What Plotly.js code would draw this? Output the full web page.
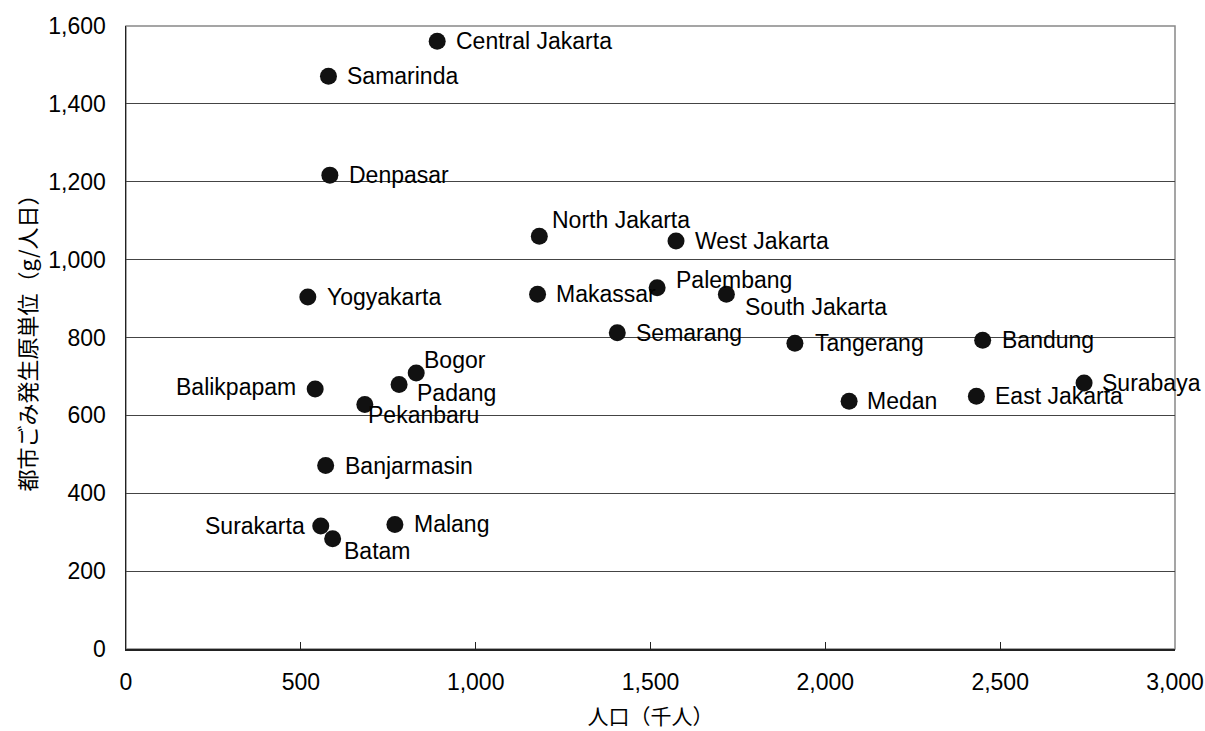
<!DOCTYPE html>
<html>
<head>
<meta charset="utf-8">
<script src="https://cdn.plot.ly/plotly-3.0.1.min.js"></script>
<style>html,body{margin:0;padding:0;background:#fff;}#chart{width:1205px;height:731px;}</style>
</head>
<body>
<div id="chart"></div>
<script>
const cities = ["Central Jakarta","Samarinda","Denpasar","North Jakarta","West Jakarta","Yogyakarta","Makassar","Palembang","South Jakarta","Semarang","Tangerang","Bandung","Bogor","Padang","Balikpapam","Pekanbaru","Medan","East Jakarta","Surabaya","Banjarmasin","Surakarta","Batam","Malang"];
const population = [890,579,583,1182,1573,520,1177,1519,1717,1405,1913,2450,830,781,541,683,2068,2432,2740,571,557,591,769];
const wastePerCapita = [1561,1471,1217,1060,1048,904,911,928,911,812,785,793,709,679,668,628,636,649,683,471,316,283,320];
const xTicks = [0,500,1000,1500,2000,2500,3000];
const yTicks = [0,200,400,600,800,1000,1200,1400,1600];

// label placement relative to each dot: [anchor side, x shift px, y shift px (down)]
const labelPlacement = [
  ["left",17,0],["left",17,0],["left",17,0],["left",11,-16],["left",17,0],["left",17,0],["left",16,0],["left",17,-8],
  ["left",17,13],["left",17,0],["left",18,0],["left",17,0],["left",6,-13],["left",16,8],["right",-17,-2],["left",1,11],
  ["left",16,0],["left",17,0],["left",16,0],["left",17,0],["right",-14,0],["left",9,12],["left",17,0]
];

const trace = {
  type: "scatter",
  mode: "markers",
  x: population,
  y: wastePerCapita,
  text: cities,
  marker: {size: 17, color: "#111111"},
  cliponaxis: false,
  hoverinfo: "x+y+text",
  showlegend: false
};

const labelFont = {family: "Liberation Sans, Arial, sans-serif", size: 23, color: "#000"};
const annotations = cities.map((name, i) => ({
  x: population[i], y: wastePerCapita[i], xref: "x", yref: "y",
  text: name, showarrow: false,
  xanchor: labelPlacement[i][0], yanchor: "middle",
  xshift: labelPlacement[i][1], yshift: -labelPlacement[i][2],
  font: labelFont
}));

const layout = {
  width: 1205, height: 731,
  margin: {l: 126, r: 30, t: 26, b: 82},
  paper_bgcolor: "#fff", plot_bgcolor: "#fff",
  font: {family: "Liberation Sans, Arial, sans-serif", size: 23, color: "#000"},
  xaxis: {
    range: [0, 3000], tickvals: xTicks, tickformat: ",",
    showgrid: false, zeroline: false,
    showline: true, linecolor: "#222", linewidth: 1.5,
    ticks: "inside", ticklen: 7, tickcolor: "#222",
    ticklabelstandoff: 12,
    title: {text: "人口（千人）", font: {family: "Noto Sans CJK JP", size: 21, color: "#000"}, standoff: 15}
  },
  yaxis: {
    range: [0, 1600], tickvals: yTicks, tickformat: ",",
    showgrid: true, gridcolor: "#444", gridwidth: 1,
    zeroline: false,
    showline: true, linecolor: "#222", linewidth: 1.5,
    ticks: "", ticklabelstandoff: 14,
    title: {text: "都市ごみ発生原単位（g/人日）", font: {family: "Noto Sans CJK JP", size: 22, color: "#000"}, standoff: 5}
  },
  annotations: annotations,
  shapes: [{type: "rect", xref: "paper", yref: "paper", x0: 0, x1: 1, y0: 0, y1: 1, line: {color: "#888", width: 1.5}, layer: "below"}]
};

Plotly.newPlot("chart", [trace], layout, {displayModeBar: false, staticPlot: true});
</script>
</body>
</html>
